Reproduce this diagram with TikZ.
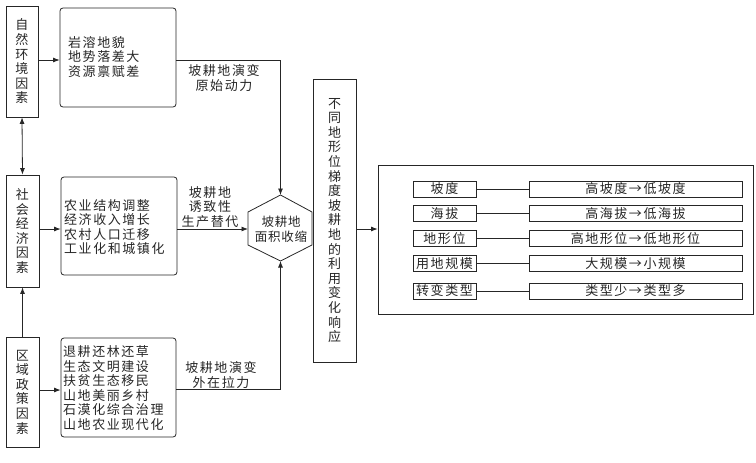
\documentclass[tikz,border=0pt]{standalone}
\usepackage{fontspec}
\setmainfont{Noto Sans CJK SC}[LetterSpace=12]
\newfontfamily\hexfont{Noto Sans CJK SC}[LetterSpace=6]
\usetikzlibrary{arrows.meta}
\newcommand\fs{\fontsize{13}{14.6}\selectfont}
\newcommand\fsh{\hexfont\fontsize{12.5}{15}\selectfont}
\begin{document}
\begin{tikzpicture}[x=1pt,y=-1pt,
  every node/.style={font=\fs, inner sep=0pt, text=black!85},
  box/.style={draw=black!85, line width=0.8pt},
  rbox/.style={box, rounded corners=3pt},
  ln/.style={draw=black!85, line width=0.8pt},
  arr/.style={ln, -{Latex[length=6.5pt,width=5pt]}},
  darr/.style={ln, {Latex[length=6.5pt,width=5pt]}-{Latex[length=6.5pt,width=5pt]}},
  vbox/.style={box, align=center, minimum width=33pt},
  sbox/.style={box, minimum width=63pt, minimum height=16pt},
  wbox/.style={box, minimum width=213pt, minimum height=16pt}]
\useasboundingbox (0,0) rectangle (756,463);

% left column
\node[vbox, minimum width=32pt, minimum height=111pt] (A) at (22,61.5) {自\\然\\环\\境\\因\\素};
\node[vbox, minimum height=112pt] (B) at (22.5,231) {社\\会\\经\\济\\因\\素};
\node[vbox, minimum height=110pt] (C) at (22.5,392) {区\\域\\政\\策\\因\\素};
\draw[darr] (A.south) -- (B.north);
\draw[arr] (C.north) -- (B.south);

% middle boxes
\node[rbox, minimum width=116pt, minimum height=99pt] (M1) at (118,57.5) {};
\node[rbox, minimum width=116pt, minimum height=98pt] (M2) at (119,226) {};
\node[rbox, minimum width=115pt, minimum height=99pt] (M3) at (118.5,387.5) {};
\node[anchor=west, align=left] (M1t) at (68,57) {岩溶地貌\\地势落差大\\资源禀赋差};
\node[anchor=west, align=left] (M2t) at (64,227) {农业结构调整\\经济收入增长\\农村人口迁移\\工业化和城镇化};
\node[anchor=west, align=left] (M3t) at (63,388) {退耕还林还草\\生态文明建设\\扶贫生态移民\\山地美丽乡村\\石漠化综合治理\\山地农业现代化};

\draw[arr] (A.east |- 0,60) -- (M1.west |- 0,60);
\draw[arr] (B.east |- 0,229) -- (M2.west |- 0,229);
\draw[arr] (C.east |- 0,390) -- (M3.west |- 0,390);

% hexagon
\coordinate (hT) at (280.5,195);
\coordinate (hUL) at (248,212);
\coordinate (hLL) at (248,245);
\coordinate (hB) at (280.5,261);
\coordinate (hLR) at (312,245);
\coordinate (hUR) at (312,212);
\draw[ln] (hT) -- (hUL) -- (hLL) -- (hB) -- (hLR) -- (hUR) -- cycle;
\node[font=\fsh, align=center] (hex) at (281,229.5) {坡耕地\\面积收缩};
\coordinate (hL) at (248,229);

\draw[arr] (M1.east |- 0,60) -| (hT);
\draw[arr] (M2.east |- hL) -- (hL);
\draw[arr] (M3.east |- 0,389) -| (hB);

\node[align=center] (L1) at (224,78) {坡耕地演变\\原始动力};
\node[align=center] (L2) at (210,207) {坡耕地\\诱致性\\生产替代};
\node[align=center] (L3) at (221,375) {坡耕地演变\\外在拉力};

% tall box
\node[box, align=center, minimum width=43pt, minimum height=283pt] (T) at (334.5,220.5)
  {不\\同\\地\\形\\位\\梯\\度\\坡\\耕\\地\\的\\利\\用\\变\\化\\响\\应};

% right box
\node[box, minimum width=375pt, minimum height=149pt] (R) at (565.5,239.5) {};
\draw[arr] (T.east |- hL) -- (R.west |- hL);

\node[sbox] (s1) at (444.5,189) {坡度};
\node[sbox] (s2) at (444.5,213.5) {海拔};
\node[sbox] (s3) at (444.5,238.5) {地形位};
\node[sbox] (s4) at (444.5,263.5) {用地规模};
\node[sbox] (s5) at (444.5,291) {转变类型};
\node[wbox] (w1) at (635.5,189) {高坡度→低坡度};
\node[wbox] (w2) at (635.5,213.5) {高海拔→低海拔};
\node[wbox] (w3) at (635.5,238.5) {高地形位→低地形位};
\node[wbox] (w4) at (635.5,263.5) {大规模→小规模};
\node[wbox] (w5) at (635.5,291) {类型少→类型多};
\foreach \i in {1,...,5} \draw[ln] (s\i.east) -- (w\i.west);
\end{tikzpicture}
\end{document}
